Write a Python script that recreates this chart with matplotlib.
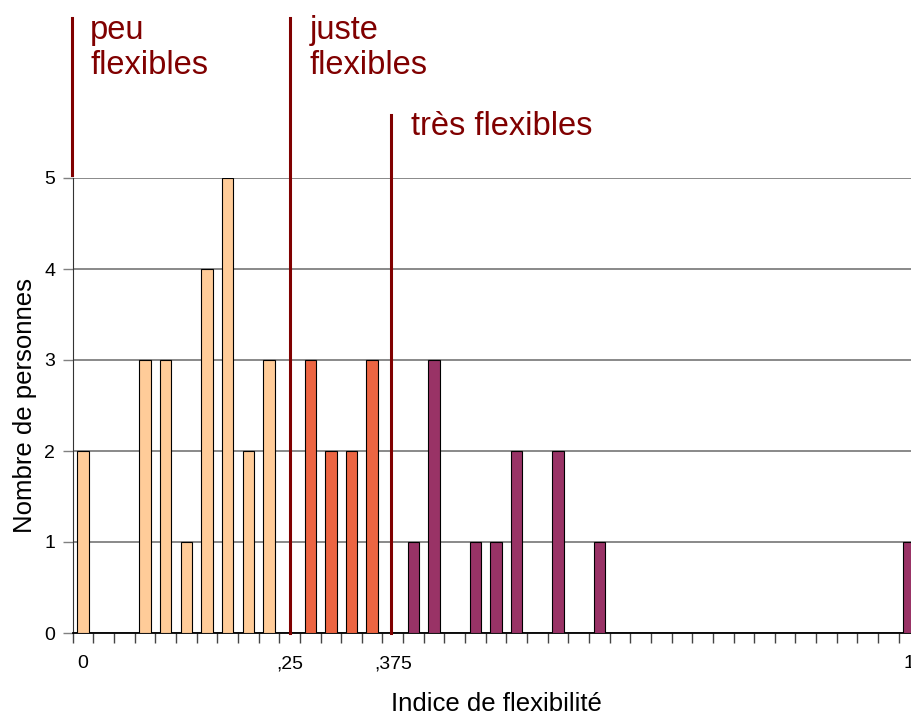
import matplotlib.pyplot as plt
import numpy as np

plt.rcParams['font.family'] = ['Liberation Sans', 'DejaVu Sans']

# indice de flexibilite: categories every 0.025 from 0 to 1
indices = np.round(np.arange(0, 41) * 0.025, 3)
effectifs = [2, 0, 0, 3, 3, 1, 4, 5, 2, 3,
             0, 3, 2, 2, 3, 0, 1, 3, 0, 1,
             1, 2, 0, 2, 0, 1, 0, 0, 0, 0,
             0, 0, 0, 0, 0, 0, 0, 0, 0, 0,
             1]
seuils = [0.25, 0.375]
groupes = ["peu\nflexibles", "juste\nflexibles", "très flexibles"]
couleurs = ["#FFCC99", "#EC6542", "#993366"]
tick_pos = [0, 0.25, 0.375, 1]
tick_lab = ["0", ",25", ",375", "1"]

rouge = "#800000"
step = 0.025

fig = plt.figure(figsize=(9.12, 7.18), dpi=100)
ax = fig.add_axes([72.7 / 912, 85 / 718, 846.7 / 912, 455 / 718])

cols = []
for v in indices:
    if v < seuils[0]:
        cols.append(couleurs[0])
    elif v < seuils[1]:
        cols.append(couleurs[1])
    else:
        cols.append(couleurs[2])

ax.bar(indices, effectifs, width=step * 0.55, color=cols,
       edgecolor="black", linewidth=0.8, zorder=3)

ax.set_xlim(-step / 2, 1 + step / 2)
ax.set_ylim(0, 5)

# grid
ax.set_yticks(range(6))
ax.yaxis.grid(True, color="#808080", linewidth=1.3, zorder=0)
ax.tick_params(axis="y", length=7.2, width=1, color="#808080",
               labelsize=14, pad=5.5)

# x ticks between categories, labels at some values
ax.set_xticks(tick_pos)
ax.set_xticklabels(tick_lab)
ax.set_xticks(np.arange(42) * step - step / 2, minor=True)
ax.tick_params(axis="x", which="major", length=0, labelsize=14, pad=16)
ax.tick_params(axis="x", which="minor", length=7.2, width=1, color="#444444")

for s in ["top", "right"]:
    ax.spines[s].set_visible(False)
ax.spines["left"].set_color("#333333")
ax.spines["bottom"].set_color("black")
ax.spines["bottom"].set_linewidth(1.3)

ax.set_ylabel("Nombre de personnes", fontsize=18.5, labelpad=5)
ax.set_xlabel("Indice de flexibilité", fontsize=18.5, labelpad=14)

# separators between groups
ax.plot([-step / 2 - 0.0008] * 2, [5.03, 6.76], color=rouge, lw=2.2,
        clip_on=False, zorder=5)
ax.plot([seuils[0] + 0.001] * 2, [0, 6.76], color=rouge, lw=2.2,
        clip_on=False, zorder=5)
ax.plot([seuils[1] - 0.0025] * 2, [0, 5.69], color=rouge, lw=2.2,
        clip_on=False, zorder=5)

# group labels, one text per line
for x0, lab in [(0.0085, groupes[0]), (0.274, groupes[1])]:
    l1, l2 = lab.split("\n")
    ax.text(x0, 6.53, l1, color=rouge, fontsize=23.5, va="baseline",
            ha="left", clip_on=False)
    ax.text(x0, 6.14, l2, color=rouge, fontsize=23.5, va="baseline",
            ha="left", clip_on=False)
ax.text(0.397, 5.475, groupes[2], color=rouge, fontsize=23.5,
        va="baseline", ha="left", clip_on=False)

fig.savefig("out.png", dpi=100)
